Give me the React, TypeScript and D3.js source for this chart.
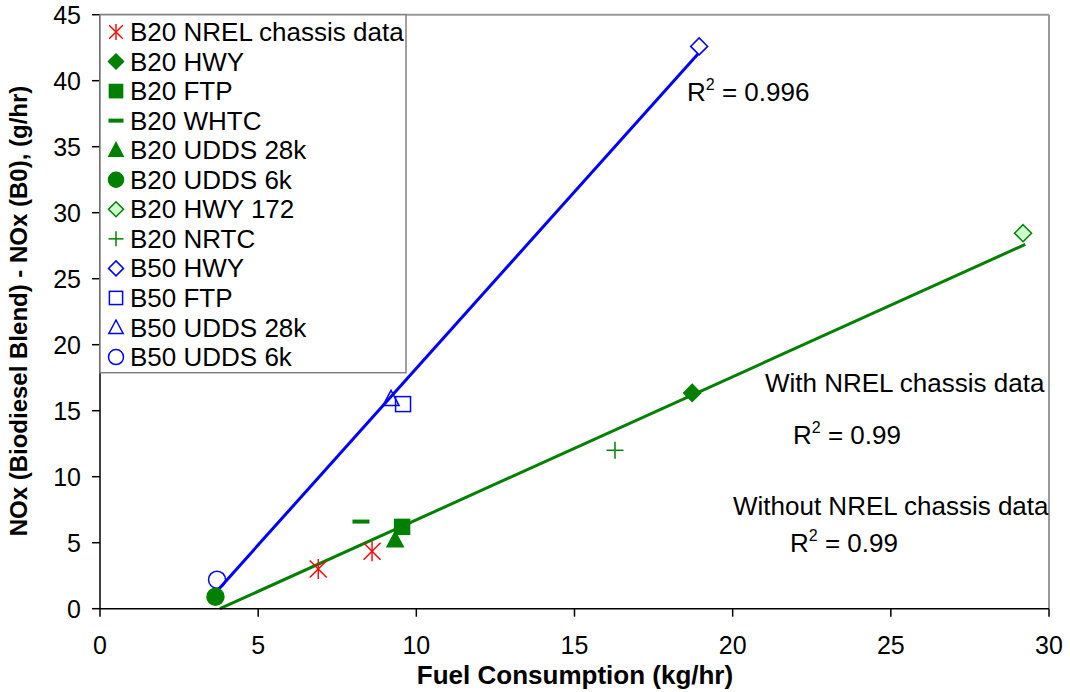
import React from "react";
import * as d3 from "d3";

type Marker = "asterisk" | "diamond" | "square" | "dash" | "triangle" | "circle" | "plus";

interface Series {
  name: string;
  marker: Marker;
  stroke: string;
  fill: string;
  x: number[];
  y: number[];
}

const b20NrelX = [6.9, 8.6];
const b20NrelY = [3.0, 4.35];
const b20HwyX = [18.72];
const b20HwyY = [16.35];
const b20FtpX = [9.55];
const b20FtpY = [6.2];
const b20WhtcX = [8.25];
const b20WhtcY = [6.6];
const b20Udds28X = [9.33];
const b20Udds28Y = [5.2];
const b20Udds6X = [3.65];
const b20Udds6Y = [0.9];
const b20Hwy172X = [29.18];
const b20Hwy172Y = [28.45];
const b20NrtcX = [16.28];
const b20NrtcY = [12.0];
const b50HwyX = [18.94];
const b50HwyY = [42.6];
const b50FtpX = [9.58];
const b50FtpY = [15.5];
const b50Udds28X = [9.2];
const b50Udds28Y = [15.9];
const b50Udds6X = [3.7];
const b50Udds6Y = [2.2];

const blueTrendX = [3.7, 18.93];
const blueTrendY = [1.35, 42.1];
const greenTrendX = [3.79, 29.25];
const greenTrendY = [0, 27.6];

const xTicks = [0, 5, 10, 15, 20, 25, 30];
const yTicks = [0, 5, 10, 15, 20, 25, 30, 35, 40, 45];

const RED = "#FF0000";
const GREEN = "#008000";
const LIGHTGREEN = "#CCFFCC";
const BLUE = "#0000FF";

const series: Series[] = [
  { name: "B20 NREL chassis data", marker: "asterisk", stroke: RED, fill: "none", x: b20NrelX, y: b20NrelY },
  { name: "B20 HWY", marker: "diamond", stroke: GREEN, fill: GREEN, x: b20HwyX, y: b20HwyY },
  { name: "B20 FTP", marker: "square", stroke: GREEN, fill: GREEN, x: b20FtpX, y: b20FtpY },
  { name: "B20 WHTC", marker: "dash", stroke: GREEN, fill: GREEN, x: b20WhtcX, y: b20WhtcY },
  { name: "B20 UDDS 28k", marker: "triangle", stroke: GREEN, fill: GREEN, x: b20Udds28X, y: b20Udds28Y },
  { name: "B20 UDDS 6k", marker: "circle", stroke: GREEN, fill: GREEN, x: b20Udds6X, y: b20Udds6Y },
  { name: "B20 HWY 172", marker: "diamond", stroke: GREEN, fill: LIGHTGREEN, x: b20Hwy172X, y: b20Hwy172Y },
  { name: "B20 NRTC", marker: "plus", stroke: GREEN, fill: "none", x: b20NrtcX, y: b20NrtcY },
  { name: "B50 HWY", marker: "diamond", stroke: BLUE, fill: "none", x: b50HwyX, y: b50HwyY },
  { name: "B50 FTP", marker: "square", stroke: BLUE, fill: "none", x: b50FtpX, y: b50FtpY },
  { name: "B50 UDDS 28k", marker: "triangle", stroke: BLUE, fill: "none", x: b50Udds28X, y: b50Udds28Y },
  { name: "B50 UDDS 6k", marker: "circle", stroke: BLUE, fill: "none", x: b50Udds6X, y: b50Udds6Y },
];

const W = 1070;
const H = 692;
const M = { left: 100, right: 1049, top: 14.7, bottom: 608.7 };

const FONT = "'Liberation Sans', Arial, sans-serif";

function MarkerShape({ m, cx, cy, s, stroke, fill }: { m: Marker; cx: number; cy: number; s: number; stroke: string; fill: string }) {
  const h = s / 2;
  switch (m) {
    case "asterisk": {
      const d = h * 0.85;
      return (
        <g stroke={stroke} strokeWidth={1.4} fill="none">
          <line x1={cx} y1={cy - h} x2={cx} y2={cy + h} />
          <line x1={cx - d} y1={cy - d} x2={cx + d} y2={cy + d} />
          <line x1={cx - d} y1={cy + d} x2={cx + d} y2={cy - d} />
        </g>
      );
    }
    case "diamond":
      return (
        <path
          d={`M${cx},${cy - h}L${cx + h},${cy}L${cx},${cy + h}L${cx - h},${cy}Z`}
          stroke={stroke}
          strokeWidth={1.5}
          fill={fill === "none" ? "white" : fill}
        />
      );
    case "square": {
      const q = h * 0.88;
      return <rect x={cx - q} y={cy - q} width={2 * q} height={2 * q} stroke={stroke} strokeWidth={1.5} fill={fill === "none" ? "white" : fill} />;
    }
    case "dash":
      return <rect x={cx - h} y={cy - 2} width={s} height={4} fill={stroke} />;
    case "triangle":
      return (
        <path
          d={`M${cx},${cy - h}L${cx + h * 0.95},${cy + h * 0.8}L${cx - h * 0.95},${cy + h * 0.8}Z`}
          stroke={stroke}
          strokeWidth={1.5}
          fill={fill === "none" ? "none" : fill}
        />
      );
    case "circle":
      return <circle cx={cx} cy={cy} r={h} stroke={stroke} strokeWidth={1.5} fill={fill === "none" ? "none" : fill} />;
    case "plus":
      return (
        <g stroke={stroke} strokeWidth={1.5}>
          <line x1={cx - h} y1={cy} x2={cx + h} y2={cy} />
          <line x1={cx} y1={cy - h} x2={cx} y2={cy + h} />
        </g>
      );
  }
  return null;
}

function R2Label({ x, y, value }: { x: number; y: number; value: string }) {
  return (
    <text x={x} y={y} fontFamily={FONT} fontSize={26} fill="#000">
      R
      <tspan fontSize={16} dy={-11}>2</tspan>
      <tspan dy={11}>{` = ${value}`}</tspan>
    </text>
  );
}

export default function App() {
  const x = d3.scaleLinear().domain([0, 30]).range([M.left, M.right]);
  const y = d3.scaleLinear().domain([0, 45]).range([M.bottom, M.top]);
  const line = d3
    .line<[number, number]>()
    .x((d) => x(d[0]))
    .y((d) => y(d[1]));

  const blue: [number, number][] = blueTrendX.map((v, i) => [v, blueTrendY[i]]);
  const green: [number, number][] = greenTrendX.map((v, i) => [v, greenTrendY[i]]);

  const legendX = 100;
  const legendY = 14.7;
  const legendW = 306;
  const legendH = 358;
  const rowStart = 32;
  const rowStep = 29.55;

  const plotOrder = [8, 9, 10, 11, 0, 1, 2, 3, 4, 5, 6, 7];

  return (
    <svg width={W} height={H} style={{ display: "block", position: "absolute", left: 0, top: 0 }}>
      <rect x={0} y={0} width={W} height={H} fill="#fff" />
      {/* plot frame top/right */}
      <line x1={M.left} y1={M.top} x2={M.right} y2={M.top} stroke="#999" strokeWidth={2} />
      <line x1={M.right} y1={M.top} x2={M.right} y2={M.bottom} stroke="#999" strokeWidth={2} />

      {/* trend lines */}
      <path d={line(green) || ""} stroke={GREEN} strokeWidth={3} fill="none" />
      <path d={line(blue) || ""} stroke={BLUE} strokeWidth={3} fill="none" />

      {/* axes */}
      <line x1={M.left} y1={M.top} x2={M.left} y2={M.bottom} stroke="#000" strokeWidth={1.5} />
      <line x1={M.left} y1={M.bottom} x2={M.right} y2={M.bottom} stroke="#000" strokeWidth={1.5} />
      {yTicks.map((t) => (
        <g key={"y" + t}>
          <line x1={M.left - 8} x2={M.left} y1={y(t)} y2={y(t)} stroke="#000" strokeWidth={1.5} />
          <text x={81} y={y(t) + 9} textAnchor="end" fontFamily={FONT} fontSize={25} fill="#000">
            {t}
          </text>
        </g>
      ))}
      {xTicks.map((t) => (
        <g key={"x" + t}>
          <line x1={x(t)} x2={x(t)} y1={M.bottom} y2={M.bottom + 8} stroke="#000" strokeWidth={1.5} />
          <text x={x(t)} y={654} textAnchor="middle" fontFamily={FONT} fontSize={25} fill="#000">
            {t}
          </text>
        </g>
      ))}

      {/* axis titles */}
      <text x={575} y={684} textAnchor="middle" fontFamily={FONT} fontSize={26} fontWeight="bold" fill="#000">
        Fuel Consumption (kg/hr)
      </text>
      <text
        transform={`translate(27,311) rotate(-90)`}
        textAnchor="middle"
        fontFamily={FONT}
        fontSize={24}
        fontWeight="bold"
        fill="#000"
      >
        NOx (Biodiesel Blend) - NOx (B0), (g/hr)
      </text>

      {/* data markers */}
      {plotOrder.map((si) => {
        const s = series[si];
        return (
          <g key={"s" + si}>
            {s.x.map((xv, i) => (
              <MarkerShape
                key={i}
                m={s.marker}
                cx={x(xv)}
                cy={y(s.y[i])}
                s={s.marker === "asterisk" ? 20 : 17}
                stroke={s.stroke}
                fill={s.fill}
              />
            ))}
          </g>
        );
      })}

      {/* annotations */}
      <R2Label x={687} y={101} value="0.996" />
      <text x={765} y={392} fontFamily={FONT} fontSize={26} fill="#000">
        With NREL chassis data
      </text>
      <R2Label x={793} y={444} value="0.99" />
      <text x={733} y={515} fontFamily={FONT} fontSize={26} fill="#000">
        Without NREL chassis data
      </text>
      <R2Label x={790} y={552} value="0.99" />

      {/* legend */}
      <rect x={legendX} y={legendY} width={legendW} height={legendH} fill="#fff" stroke="#808080" strokeWidth={1.5} />
      {series.map((s, i) => {
        const cy = rowStart + i * rowStep;
        return (
          <g key={"l" + i}>
            <MarkerShape m={s.marker} cx={116} cy={cy} s={s.marker === "asterisk" ? 16 : 15} stroke={s.stroke} fill={s.fill} />
            <text x={130} y={cy + 9} fontFamily={FONT} fontSize={26} fill="#000">
              {s.name}
            </text>
          </g>
        );
      })}
    </svg>
  );
}
